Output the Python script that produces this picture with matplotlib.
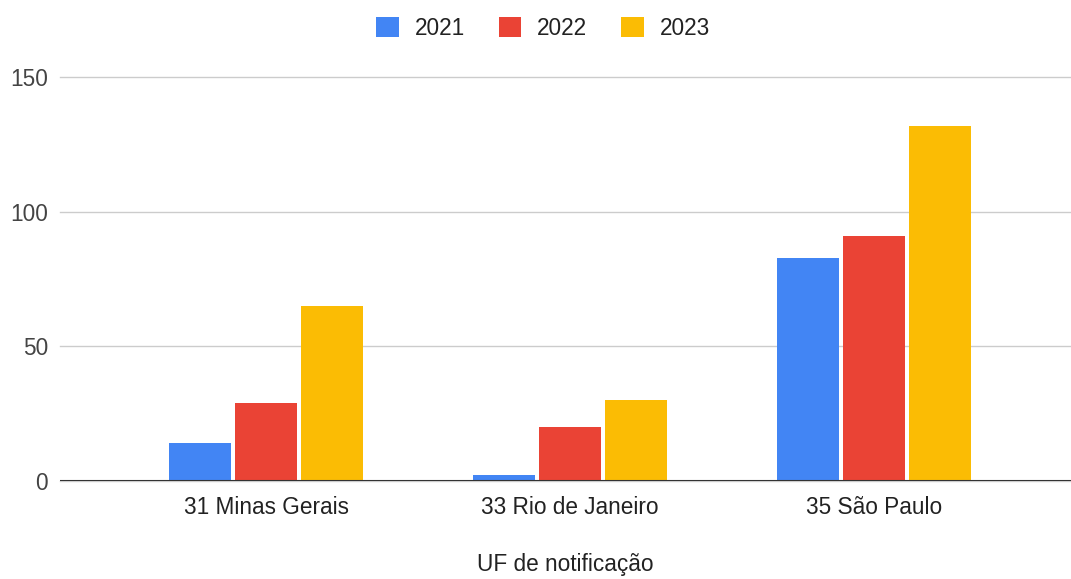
import matplotlib
matplotlib.use("Agg")
import matplotlib.pyplot as plt
import numpy as np

# values
states = ["31 Minas Gerais", "33 Rio de Janeiro", "35 São Paulo"]
years = ["2021", "2022", "2023"]
v2021 = [14, 2, 83]
v2022 = [29, 20, 91]
v2023 = [65, 30, 132]
colors = ["#4285F4", "#EA4335", "#FBBC04"]

plt.rcParams["font.family"] = ["Liberation Sans", "DejaVu Sans"]
FS = 16.3

fig = plt.figure(figsize=(10.71, 5.79), dpi=100)
ax = fig.add_axes([60 / 1071, (579 - 480.5) / 579, 1011 / 1071, 403 / 579])

x = np.arange(len(states))
w = 0.204; step = 0.217
for j, (vals, lab) in enumerate(zip([v2021, v2022, v2023], years)):
    ax.bar(x + (j - 1) * step, vals, w, color=colors[j], label=lab, zorder=3)

ax.set_xlim(-0.678, 2.648)
ax.set_ylim(0, 150)
ax.set_yticks([0, 50, 100, 150])
ax.grid(axis="y", color="#cccccc", lw=1, zorder=0)
for gl in ax.get_ygridlines():
    gl.set_clip_on(False)
ax.axhline(0, color="#333333", lw=1.5, zorder=4)
for s in ax.spines.values():
    s.set_visible(False)
ax.set_xticks(x)
ax.set_xticklabels(states)
ax.tick_params(axis="y", length=0, pad=8.5, labelsize=FS, labelcolor="#444444")
ax.tick_params(axis="x", length=0, pad=11, labelsize=FS, labelcolor="#222222")
ax.set_xlabel("UF de notificação", fontsize=FS, color="#222222", labelpad=25)

fig.legend(loc="upper center", bbox_to_anchor=(0.507, 1.006), ncol=3, frameon=False,
           fontsize=FS, handlelength=1.0, handleheight=1.0, columnspacing=1.5,
           handletextpad=0.7, labelcolor="#222222")

fig.savefig("out.png", dpi=100)
